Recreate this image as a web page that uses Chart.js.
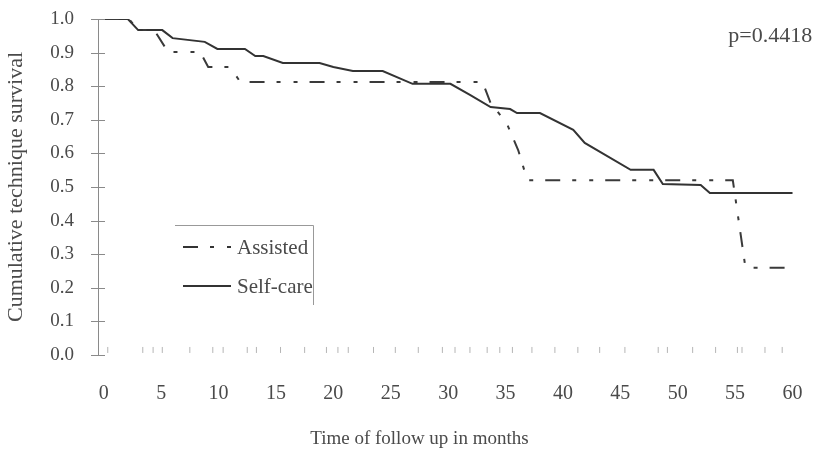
<!DOCTYPE html>
<html>
<head>
<meta charset="utf-8">
<script src="https://cdn.jsdelivr.net/npm/chart.js@4"></script>
<style>
  html, body { margin: 0; padding: 0; background: #fff; }
  #wrap { width: 817px; height: 453px; }
</style>
</head>
<body>
<div id="wrap"><canvas id="myChart"></canvas></div>
<script>
// Kaplan-Meier curves (months, survival)
const selfCareTime = [0, 2.1, 3.0, 5.1, 6.0, 8.8, 9.9, 12.3, 13.2, 13.9, 15.6, 18.8, 20.0, 21.7, 24.3, 26.9, 30.2, 31.9, 33.7, 35.4, 36.0, 38.0, 40.9, 41.9, 45.9, 47.9, 48.7, 52.0, 52.8, 60.0];
const selfCareSurv = [1.0, 1.0, 0.967, 0.967, 0.943, 0.932, 0.911, 0.911, 0.89, 0.89, 0.869, 0.869, 0.857, 0.845, 0.845, 0.807, 0.807, 0.774, 0.738, 0.732, 0.72, 0.72, 0.67, 0.631, 0.551, 0.551, 0.509, 0.506, 0.482, 0.482];

const assistedTime = [0, 2.2, 3.0, 4.4, 5.6, 8.4, 9.1, 11.0, 11.9, 33.0, 33.7, 35.1, 36.1, 36.9, 54.8, 55.9, 59.8];
const assistedSurv = [1.0, 1.0, 0.967, 0.967, 0.902, 0.902, 0.857, 0.857, 0.8125, 0.8125, 0.75, 0.69, 0.61, 0.52, 0.52, 0.26, 0.26];

// censor marks along the bottom
const censorTimes = [0.35, 3.4, 4.3, 5.1, 7.5, 9.5, 10.4, 12.5, 13.3, 15.4, 17.5, 19.4, 20.4, 21.3, 23.5, 25.4, 27.4, 29.5, 30.6, 31.9, 33.4, 34.5, 35.6, 37.3, 39.3, 41.3, 43.2, 45.4, 48.3, 49.1, 51.3, 53.3, 55.2, 55.6, 57.6, 59.1];
const censorLevel = 0.015;

const seriesNames = ['Assisted', 'Self-care'];
const xTickStep = 5;
const yTickStep = 0.1;
const pText = 'p=0.4418';
const xTitle = 'Time of follow up in months';
const yTitle = 'Cumulative technique survival';

const fontName = '"Liberation Serif", "Times New Roman", serif';
const textColor = '#4a4a4a';
const axisColor = '#8a8a8a';
const assistedDash = [15, 12, 4, 13, 4, 12];

const toPoints = (xs, ys) => xs.map((t, i) => ({ x: t, y: ys[i] }));

const overlay = {
  id: 'overlay',
  afterDraw(chart) {
    const { ctx, scales: { x, y } } = chart;
    ctx.save();

    // ticks crossing the y axis line
    ctx.strokeStyle = axisColor;
    ctx.lineWidth = 1;
    y.ticks.forEach((t) => {
      const py = Math.round(y.getPixelForValue(t.value)) + 0.5;
      ctx.beginPath();
      ctx.moveTo(x.left - 7, py);
      ctx.lineTo(x.left + 7, py);
      ctx.stroke();
    });

    // legend box, only top and right edges show
    ctx.strokeStyle = '#999';
    ctx.beginPath();
    ctx.moveTo(175, 225.5);
    ctx.lineTo(313.5, 225.5);
    ctx.lineTo(313.5, 305);
    ctx.stroke();

    ctx.lineWidth = 2;
    ctx.strokeStyle = '#333';
    ctx.setLineDash(assistedDash);
    ctx.beginPath();
    ctx.moveTo(183, 247);
    ctx.lineTo(231, 247);
    ctx.stroke();
    ctx.setLineDash([]);
    ctx.beginPath();
    ctx.moveTo(183, 286);
    ctx.lineTo(231, 286);
    ctx.stroke();

    ctx.fillStyle = textColor;
    ctx.font = '21px ' + fontName;
    ctx.textAlign = 'left';
    ctx.textBaseline = 'middle';
    ctx.fillText(seriesNames[0], 237, 248);
    ctx.fillText(seriesNames[1], 237, 287);

    // p value
    ctx.font = '22px ' + fontName;
    ctx.fillText(pText, x.getPixelForValue(54.4), 36);

    // x axis title
    ctx.textAlign = 'center';
    ctx.font = '19px ' + fontName;
    ctx.fillText(xTitle, x.getPixelForValue(27.5), 439);

    ctx.restore();
  }
};

const ctx = document.getElementById('myChart');

new Chart(ctx, {
  type: 'scatter',
  data: {
    datasets: [
      {
        label: seriesNames[0],
        data: toPoints(assistedTime, assistedSurv),
        showLine: true,
        borderColor: '#3a3a3a',
        borderWidth: 2,
        borderDash: assistedDash,
        pointRadius: 0,
        tension: 0
      },
      {
        label: seriesNames[1],
        data: toPoints(selfCareTime, selfCareSurv),
        showLine: true,
        borderColor: '#333',
        borderWidth: 2,
        pointRadius: 0,
        tension: 0
      },
      {
        label: 'censored',
        data: censorTimes.map((t) => ({ x: t, y: censorLevel })),
        showLine: false,
        pointStyle: 'line',
        rotation: 90,
        pointRadius: 3,
        borderColor: '#b5b5b5',
        borderWidth: 1
      }
    ]
  },
  options: {
    responsive: true,
    maintainAspectRatio: false,
    animation: false,
    layout: { padding: { top: 19, right: 13, bottom: 38, left: 3 } },
    plugins: {
      legend: { display: false },
      tooltip: { enabled: false }
    },
    scales: {
      x: {
        type: 'linear',
        min: -0.5,
        max: 61,
        border: { display: false },
        grid: { display: false, drawTicks: false },
        afterBuildTicks: (axis) => {
          const out = [];
          for (let v = 0; v <= 60; v += xTickStep) out.push({ value: v });
          axis.ticks = out;
        },
        afterFit: (scale) => {
          scale.height = 60;
          scale.paddingLeft = 0;
          scale.paddingRight = 0;
        },
        ticks: {
          color: textColor,
          font: { family: fontName, size: 20 },
          padding: 27,
          maxRotation: 0
        }
      },
      y: {
        min: 0,
        max: 1,
        border: { display: true, color: axisColor, width: 1 },
        grid: { drawOnChartArea: false, drawTicks: false },
        afterFit: (scale) => {
          scale.width = 95;
          scale.paddingTop = 0;
          scale.paddingBottom = 0;
        },
        ticks: {
          stepSize: yTickStep,
          color: textColor,
          font: { family: fontName, size: 19 },
          padding: 24,
          callback: (v) => Number(v).toFixed(1)
        },
        title: {
          display: true,
          text: yTitle,
          color: textColor,
          font: { family: fontName, size: 22 },
          padding: { top: 0, bottom: 2 }
        }
      }
    }
  },
  plugins: [overlay]
});
</script>
</body>
</html>
